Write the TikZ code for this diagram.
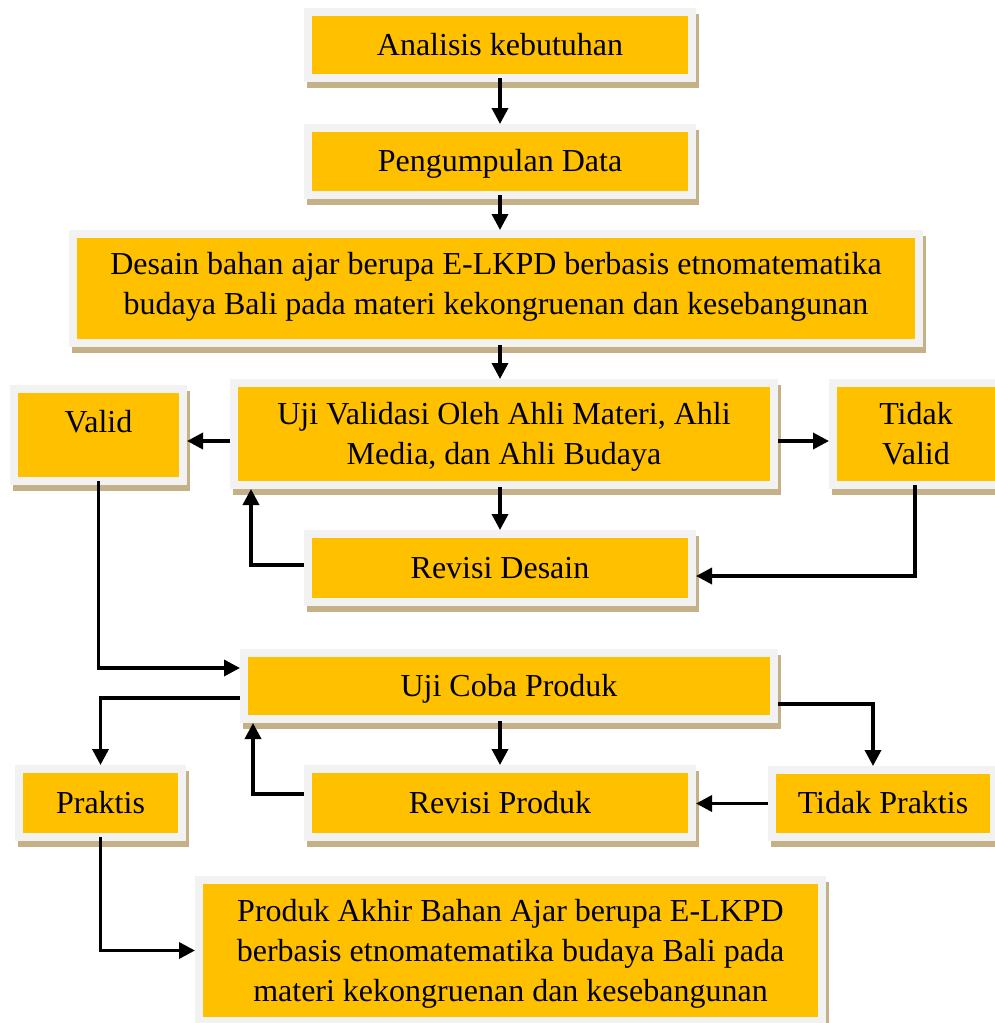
\documentclass[tikz,border=0pt]{standalone}
\usepackage{fontspec}
\setmainfont{Liberation Serif}
\usetikzlibrary{arrows.meta,calc}
\definecolor{byel}{HTML}{FFC000}
\definecolor{bgrey}{HTML}{F2F2F2}
\definecolor{btan}{HTML}{C4B187}
\tikzset{
  conn/.style={line width=3.5pt, -{Triangle[length=16pt,width=16pt]}},
  lbl/.style={font=\fontsize{32}{40}\selectfont, align=center, inner sep=0pt,
    execute at begin node=\strut, execute at end node=\strut},
  ybox/.style={fill=byel, inner sep=0pt, outer sep=8pt},
}
\newcommand\drawbox[5]{%
  \pgfmathsetmacro\bw{#4-#2}\pgfmathsetmacro\bh{#5-#3}%
  \fill[btan] (#2-5,#3-2) rectangle (#4+11,#5+14);
  \fill[bgrey] (#2-8,#3-8) rectangle (#4+8,#5+8);
  \node[ybox, minimum width=\bw pt, minimum height=\bh pt] (#1) at ({(#2+#4)/2},{(#3+#5)/2}) {};
}
\begin{document}
\begin{tikzpicture}[x=1pt,y=-1pt]
\useasboundingbox (0,0) rectangle (995,1023);
% boxes
\drawbox{b1}{312}{16}{688}{74}
\drawbox{b2}{312}{132}{688}{191}
\drawbox{b3}{77}{238}{915}{339}
\drawbox{b4}{238}{387}{770}{481}
\drawbox{bv}{18}{393}{179}{477}
\drawbox{btv}{837}{387}{995}{481}
\drawbox{brd}{312}{538}{688}{598}
\drawbox{bu}{248}{657}{770}{715}
\drawbox{bp}{23}{773}{178}{833}
\drawbox{brp}{312}{773}{688}{833}
\drawbox{btp}{776}{774}{990}{833}
\drawbox{bf}{203}{884}{818}{1017}
% texts
\node[lbl] (t1) at ([yshift=-2pt]b1.center) {Analisis kebutuhan};
\node[lbl] (t2) at ([yshift=-2pt]b2.center) {Pengumpulan Data};
\node[lbl] (t3) at ([yshift=-1pt]b3.center) {Desain bahan ajar berupa E-LKPD berbasis etnomatematika\\budaya Bali pada materi kekongruenan dan kesebangunan};
\node[lbl] (t4) at ([yshift=-5pt]b4.center) {Uji Validasi Oleh Ahli Materi, Ahli\\Media, dan Ahli Budaya};
\node[lbl] (tv) at ([yshift=11pt]bv.center) {Valid};
\node[lbl] (ttv) at ([yshift=-5pt]btv.center) {Tidak\\Valid};
\node[lbl] (trd) at ([yshift=-2pt]brd.center) {Revisi Desain};
\node[lbl] (tu) at ([yshift=-2pt]bu.center) {Uji Coba Produk};
\node[lbl] (tp) at ([yshift=-2pt]bp.center) {Praktis};
\node[lbl] (trp) at ([yshift=-2pt]brp.center) {Revisi Produk};
\node[lbl] (ttp) at ([yshift=-2pt]btp.center) {Tidak Praktis};
\node[lbl] (tf) at ([yshift=-6pt]bf.center) {Produk Akhir Bahan Ajar berupa E-LKPD\\berbasis etnomatematika budaya Bali pada\\materi kekongruenan dan kesebangunan};
% connectors
\draw[conn] ([yshift=4pt]b1.south) -- (b2.north);
\draw[conn] ([yshift=4pt]b2.south) -- (b3.north -| b2.south);
\draw[conn] ([yshift=2pt]b3.south -| b2.south) -- (b4.north -| b2.south);
\draw[conn] ([yshift=2pt]b4.south -| brd.north) -- (brd.north);
\draw[conn] ([yshift=-7pt]b4.west) -- ([yshift=-7pt]b4.west -| bv.east);
\draw[conn] ([yshift=-7pt]b4.east) -- ([yshift=-7pt]b4.east -| btv.west);
\draw[conn] ([yshift=3pt]brd.west) -| ([xshift=21pt]b4.south west);
\draw[conn] ([xshift=-1pt,yshift=4pt]btv.south) |- ([yshift=-8pt]brd.east);
\draw[conn] ([yshift=4pt]bv.south) |- ([yshift=18pt]bu.west);
\draw[conn] ([yshift=-12pt]bu.west) -| (bp.north);
\draw[conn] ([yshift=2pt]bu.south -| brp.north) -- (brp.north);
\draw[conn] ([yshift=-18pt]bu.east) -| ([xshift=-10pt]btp.north);
\draw[conn] (btp.west) -- (btp.west -| brp.east);
\draw[conn] ([yshift=9pt]brp.west) -| ([xshift=13pt]bu.south west);
\draw[conn] ([yshift=4pt]bp.south) |- (bf.west);
\end{tikzpicture}
\end{document}
